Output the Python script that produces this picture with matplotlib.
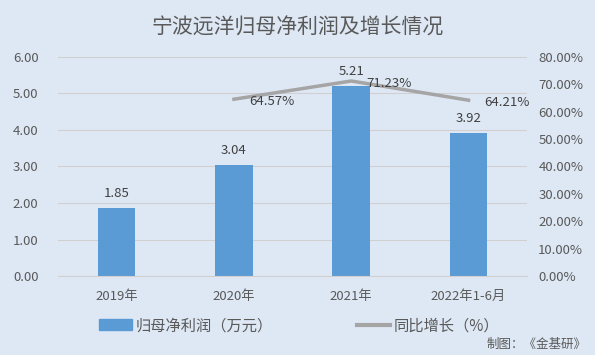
import numpy as np
import matplotlib.pyplot as plt
from matplotlib.patches import Patch
from matplotlib.lines import Line2D
from matplotlib.ticker import FuncFormatter

plt.rcParams['font.family'] = ['Noto Sans CJK SC', 'DejaVu Sans']

# data
periods = ['2019年', '2020年', '2021年', '2022年1-6月']
profit = [1.85, 3.04, 5.21, 3.92]            # 归母净利润（万元）
growth_periods = ['2020年', '2021年', '2022年1-6月']
growth = [64.57, 71.23, 64.21]               # 同比增长（%）

bg = '#DEE8F4'
bar_col = '#5B9BD5'
line_col = '#A5A5A5'
txt = '#595959'

fig = plt.figure(figsize=(5.95, 3.55), dpi=100, facecolor=bg)
ax = fig.add_axes([0.0975, 0.2225, 0.7885, 0.617], facecolor=bg)
ax2 = ax.twinx()

x = np.arange(len(periods))
ax.bar(x, profit, width=0.32, color=bar_col, zorder=2)
for xi, v in zip(x, profit):
    ax.text(xi, v + 0.22, f'{v:.2f}', ha='center', va='bottom', fontsize=9.5, color='#404040')

gx = [periods.index(p) for p in growth_periods]
ax2.plot(gx, np.array(growth) / 100, color=line_col, lw=2.5, zorder=3)
for xi, v in zip(gx, growth):
    ax2.text(xi + 0.13, v / 100 - 0.008, f'{v:.2f}%', ha='left', va='center', fontsize=9.5, color='#404040')

ax.set_xlim(-0.5, len(periods) - 0.5)
ax.set_ylim(0, 6)
ax.set_yticks(np.arange(0, 6.01, 1))
ax.yaxis.set_major_formatter(FuncFormatter(lambda v, p: f'{v:.2f}'))
ax2.set_ylim(0, 0.8)
ax2.set_yticks(np.arange(0, 0.801, 0.1))
ax2.yaxis.set_major_formatter(FuncFormatter(lambda v, p: f'{v*100:.2f}%'))

ax.set_xticks(x)
ax.set_xticklabels(periods)
ax.grid(axis='y', color='#D0D0D0', lw=0.8, zorder=0)
ax.set_axisbelow(True)
for a in (ax, ax2):
    for s in a.spines.values():
        s.set_visible(False)
    a.tick_params(length=0, labelsize=9.5, colors=txt)
ax.spines['bottom'].set_visible(True)
ax.spines['bottom'].set_color('#D0D0D0')
ax.tick_params(axis='x', pad=10)
ax.tick_params(axis='y', pad=14)
ax2.tick_params(axis='y', pad=8)

fig.text(0.5, 0.922, '宁波远洋归母净利润及增长情况', ha='center', va='center',
         fontsize=15, color=txt)

handles = [Patch(color=bar_col), Line2D([], [], color=line_col, lw=3)]
fig.legend(handles, ['归母净利润（万元）', '同比增长（%）'], loc='center',
           bbox_to_anchor=(0.502, 0.083), ncol=2, frameon=False, fontsize=11,
           labelcolor=txt, columnspacing=5.5, handlelength=2.2, handletextpad=0.2)

fig.text(0.985, 0.03, '制图：《金基研》', ha='right', va='center', fontsize=9, color=txt)

fig.savefig('out.png', dpi=100, facecolor=bg)
